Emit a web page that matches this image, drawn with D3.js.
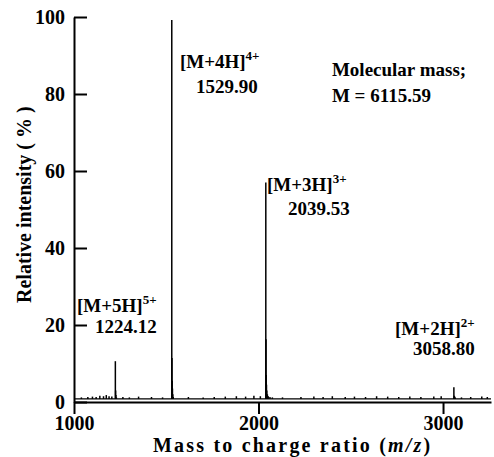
<!DOCTYPE html>
<html>
<head>
<meta charset="utf-8">
<script src="https://cdn.jsdelivr.net/npm/d3@7"></script>
<style>
  body { margin: 0; background: #fff; }
  svg text { font-family: "Liberation Serif", "Times New Roman", serif; font-weight: bold; fill: #000; }
</style>
</head>
<body>
<div id="chart"></div>
<script>
// spectre : [m/z, intensite relative %]
const peaks = [
  [1224.12, 10.6], [1225.6, 3.0], [1227.0, 1.8], [1229.5, 1.2],
  [1529.90, 99.2], [1531.0, 11.4], [1532.2, 5.5], [1533.6, 3.5], [1535.5, 2.0], [1538, 1.3],
  [2039.53, 57.0], [2040.6, 16.3], [2041.8, 7.0], [2043.2, 4.5], [2045, 3.0], [2048, 2.0], [2053, 1.5], [2062, 1.3], [2075, 1.2],
  [3058.80, 3.8], [3060.5, 1.6], [3063, 1.4], [3066, 1.2]
];
const noise = [
  [1040, 1.2], [1075, 1.3], [1100, 1.4], [1120, 1.3], [1140, 1.6], [1160, 1.5], [1175, 1.8], [1190, 1.5], [1205, 1.4],
  [1265, 1.3], [1300, 1.2], [1350, 1.4], [1420, 1.3], [1480, 1.2],
  [1620, 1.3], [1700, 1.2], [1760, 1.3], [1820, 1.4], [1880, 1.5], [1930, 1.4], [1975, 1.6], [2010, 1.5],
  [2130, 1.2], [2230, 1.3], [2300, 1.4], [2350, 1.3], [2400, 1.5], [2470, 1.3], [2520, 1.4], [2580, 1.3],
  [2640, 1.5], [2700, 1.4], [2760, 1.3], [2820, 1.4], [2880, 1.3], [2950, 1.4], [2990, 1.5],
  [3100, 1.2], [3150, 1.3], [3210, 1.4], [3240, 1.3]
];
const baseLevel = 0.8;

const xTicks = [1000, 2000, 3000];
const yTicks = [0, 20, 40, 60, 80, 100];

// annotations : ion, charge, m/z affiche, position (m/z, %) du coin du texte
const ions = ["[M+5H]", "[M+4H]", "[M+3H]", "[M+2H]"];
const charges = ["5+", "4+", "3+", "2+"];
const ionMz = ["1224.12", "1529.90", "2039.53", "3058.80"];
const labelX = [1016, 1574, 2046, 2740];
const labelY = [23.4, 86.8, 54.8, 17.4];
const secondDx = [18, 16, 21, 18];
const secondDy = [21, 25, 24, 20];

const width = 494, height = 457;

const svg = d3.select("#chart").append("svg")
  .attr("width", width)
  .attr("height", height);

const x = d3.scaleLinear().domain([1000, 3260]).range([74, 491]);
const y = d3.scaleLinear().domain([0, 100]).range([402, 17]);

// axe x
const gx = svg.append("g")
  .attr("transform", "translate(0," + y(0) + ")")
  .call(d3.axisBottom(x).tickValues(xTicks).tickFormat(d3.format("d")).tickSizeInner(12).tickSizeOuter(0).tickPadding(2));

// axe y (graduations vers l'interieur)
const gy = svg.append("g")
  .attr("transform", "translate(" + x(1000) + ",0)")
  .call(d3.axisLeft(y).tickValues(yTicks).tickSizeInner(-13).tickSizeOuter(0).tickPadding(9));

[gx, gy].forEach(function (g) {
  g.select(".domain").attr("stroke-width", 2).attr("stroke", "#000");
  g.selectAll(".tick line").attr("stroke-width", 2).attr("stroke", "#000");
  g.selectAll(".tick text")
    .style("font-family", "'Liberation Serif', serif")
    .style("font-weight", "bold")
    .style("font-size", "20px")
    .attr("fill", "#000");
});

// ligne de base du spectre
svg.append("line")
  .attr("x1", x(1000)).attr("x2", x(3260))
  .attr("y1", y(baseLevel)).attr("y2", y(baseLevel))
  .attr("stroke", "#000").attr("stroke-width", 1.2);

// pics
svg.append("g").selectAll("line")
  .data(peaks.concat(noise))
  .join("line")
  .attr("x1", d => x(d[0])).attr("x2", d => x(d[0]))
  .attr("y1", y(baseLevel)).attr("y2", d => y(d[1]))
  .attr("stroke", "#000")
  .attr("stroke-width", 1.5);

// titres des axes
svg.append("text")
  .attr("x", 153).attr("y", 452)
  .style("font-size", "20px")
  .style("letter-spacing", "2.2px")
  .html('Mass to charge ratio (<tspan font-style="italic">m/z</tspan>)');

svg.append("text")
  .attr("transform", "translate(31," + 303 + ") rotate(-90)")
  .style("font-size", "20px")
  .text("Relative intensity ( % )");

// etiquettes des ions
const ann = svg.append("g").style("font-size", "19px");
ions.forEach(function (ion, i) {
  const t = ann.append("text").attr("x", x(labelX[i])).attr("y", y(labelY[i]));
  t.append("tspan").text(ion);
  t.append("tspan").attr("dy", -8).style("font-size", "13px").text(charges[i]);
  ann.append("text")
    .attr("x", x(labelX[i]) + secondDx[i])
    .attr("y", y(labelY[i]) + secondDy[i])
    .text(ionMz[i]);
});

ann.append("text").attr("x", x(2398)).attr("y", y(84.7)).text("Molecular mass;");
ann.append("text").attr("x", x(2398)).attr("y", y(84.7) + 26).text("M = 6115.59");
</script>
</body>
</html>
